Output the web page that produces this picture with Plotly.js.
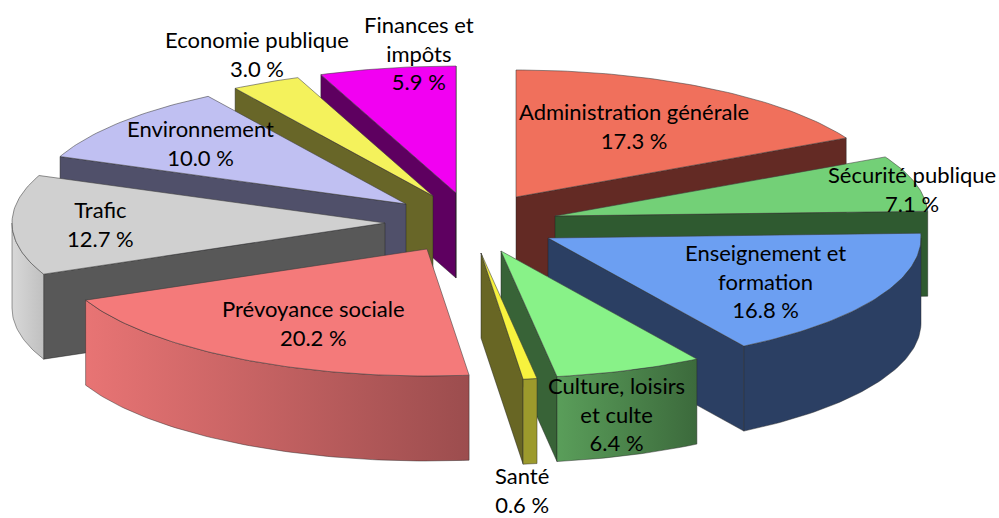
<!DOCTYPE html>
<html>
<head>
<meta charset="utf-8">
<script src="https://cdn.plot.ly/plotly-3.0.1.min.js"></script>
<style>html,body{margin:0;padding:0;background:#fff}#chart{width:999px;height:518px}</style>
</head>
<body>
<div id="chart"></div>
<script>
// ---- data ----
const categories = ["Administration générale","Sécurité publique","Enseignement et<br>formation","Culture, loisirs<br>et culte","Santé","Prévoyance sociale","Trafic","Environnement","Economie publique","Finances et<br>impôts"];
const shares = [17.3,7.1,16.8,6.4,0.6,20.2,12.7,10.0,3.0,5.9];

// ---- styles ----
const topColors  = ["#f0705c","#73d077","#6c9ff2","#88f288","#f7f23e","#f47a7a","#d0d0d0","#c0c0f2","#f4f25c","#f200f2"];
const cutColors  = ["#632a24","#2f5a30","#2b3f63","#386337","#686624","#8a4848","#585858","#50506a","#686628","#5e0060"];
const wallStart  = ["#632a24","#2f5a30","#2b3f63","#5a9e5a","#9c9a2c","#e87474","#d8d8d8","#50506a","#686628","#5e0060"];
const wallEnd    = ["#632a24","#2f5a30","#2b3f63","#3c6a3c","#9c9a2c","#9c4d4e","#c0c0c0","#50506a","#686628","#5e0060"];

// ---- layout of the exploded pie (pixel-scaled axes) ----
const apexX = [516,555,548,501,481,427,385,406,433,456];
const apexY = [197,216,238,251,253,249,223,204,196,193];
const labelX = [634,912,765,616,522,313,100,200,257,419];
const labelY = [126,189,281,414,489.5,323,224,143,54,52.5];
const RX = 373, RY = 127, DEPTH = 85;
const drawOrder = [9,8,7,6,0,1,2,3,4,5];

function rad(d){return d*Math.PI/180;}
function arc(i,a0,a1,dz){
  const xs=[],ys=[];
  const n=Math.max(2,Math.ceil(Math.abs(a1-a0)));
  for(let k=0;k<=n;k++){
    const a=rad(a0+(a1-a0)*k/n);
    xs.push(apexX[i]+RX*Math.sin(a));
    ys.push(apexY[i]-RY*Math.cos(a)+dz);
  }
  return [xs,ys];
}
function poly(xs,ys,color,lineColor,gradient){
  const t={type:"scatter",mode:"lines",x:xs,y:ys,fill:"toself",fillcolor:color,
    line:{color:lineColor,width:1},hoverinfo:"skip",showlegend:false};
  if(gradient) t.fillgradient={type:"horizontal",colorscale:[[0,gradient[0]],[1,gradient[1]]]};
  return t;
}

const angles=[]; let acc=0;
shares.forEach(s=>{angles.push([acc*3.6,(acc+s)*3.6]);acc+=s;});

const traces=[];
drawOrder.forEach(i=>{
  const [a0,a1]=angles[i];
  const cx=apexX[i], cy=apexY[i];
  // visible radial cut faces
  const cutAt=[];
  if(Math.sin(rad(a0))<0) cutAt.push(a0);
  if(Math.sin(rad(a1))>0) cutAt.push(a1);
  cutAt.forEach(a=>{
    const px=cx+RX*Math.sin(rad(a)), py=cy-RY*Math.cos(rad(a));
    traces.push(poly([cx,px,px,cx,cx],[cy,py,py+DEPTH,cy+DEPTH,cy],cutColors[i],"rgba(30,30,30,0.45)"));
  });
  // visible outer rim
  const w0=Math.max(a0,90), w1=Math.min(a1,270);
  if(w1>w0){
    const [tx,ty]=arc(i,w0,w1,0), [bx,by]=arc(i,w1,w0,DEPTH);
    const xs=tx.concat(bx,[tx[0]]), ys=ty.concat(by,[ty[0]]);
    traces.push(poly(xs,ys,wallStart[i],"rgba(40,40,40,0.45)",
      wallStart[i]===wallEnd[i]?null:[wallStart[i],wallEnd[i]]));
  }
  // top face
  const [ax,ay]=arc(i,a0,a1,0);
  traces.push(poly([cx].concat(ax,[cx]),[cy].concat(ay,[cy]),topColors[i],"rgba(60,60,60,0.55)"));
});

const annotations=categories.map((c,i)=>({
  x:labelX[i],y:labelY[i],xref:"x",yref:"y",showarrow:false,
  text:c+"<br>"+shares[i].toFixed(1)+" %",align:"center",
  font:{family:"Lato, sans-serif",size:22,color:"#000"}
}));

Plotly.newPlot("chart",traces,{
  width:999,height:518,margin:{l:0,r:0,t:0,b:0},
  paper_bgcolor:"#fff",plot_bgcolor:"#fff",showlegend:false,
  xaxis:{range:[0,999],visible:false,fixedrange:true},
  yaxis:{range:[518,0],visible:false,fixedrange:true},
  annotations
},{displayModeBar:false,staticPlot:true});
</script>
</body>
</html>
